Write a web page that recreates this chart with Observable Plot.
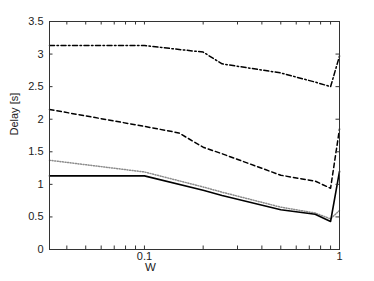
<!DOCTYPE html>
<html>
<head>
<meta charset="utf-8">
<script src="https://cdn.jsdelivr.net/npm/d3@7"></script>
<script src="https://cdn.jsdelivr.net/npm/@observablehq/plot@0.6"></script>
<style>
  html, body { margin: 0; padding: 0; background: #fff; }
  #chart svg { display: block; }
</style>
</head>
<body>
<div id="chart"></div>
<script>
// Data
const W = [0.0326, 0.1, 0.2, 0.25, 0.5, 0.75, 0.9, 1];
const solid   = [1.13, 1.13, 0.91, 0.83, 0.61, 0.54, 0.43, 1.20];
const dotted  = [1.37, 1.19, 0.96, 0.88, 0.65, 0.56, 0.47, 0.60];
const dashedW = [0.0326, 0.1, 0.15, 0.2, 0.25, 0.5, 0.75, 0.9, 1];
const dashed  = [2.15, 1.89, 1.79, 1.57, 1.47, 1.14, 1.05, 0.94, 1.85];
const dashdot = [3.13, 3.13, 3.03, 2.85, 2.71, 2.57, 2.50, 2.97];

const yTicks = [0, 0.5, 1, 1.5, 2, 2.5, 3, 3.5];
const yTickLabels = ["0", "0.5", "1", "1.5", "2", "2.5", "3", "3.5"];
const xMajor = [0.1, 1];
const xMajorLabels = ["0.1", "1"];
const xMinor = [0.04, 0.05, 0.06, 0.07, 0.08, 0.09, 0.2, 0.3, 0.4, 0.5, 0.6, 0.7, 0.8, 0.9];

const series = (xs, ys) => xs.map((x, i) => ({x, y: ys[i]}));

const axisColor = "#333";
const font = "Liberation Sans, Arial, Helvetica, sans-serif";
const W_PX = 374, H_PX = 281, ML = 49, MR = 35, MT = 21, MB = 32;
const innerW = W_PX - ML - MR, innerH = H_PX - MT - MB;
const tick = 3.5;

const chart = Plot.plot({
  width: W_PX,
  height: H_PX,
  marginLeft: ML,
  marginRight: MR,
  marginTop: MT,
  marginBottom: MB,
  style: {fontFamily: font, fontSize: "11px", color: "#222", background: "#fff"},
  x: {type: "log", domain: [0.0326, 1]},
  y: {domain: [0, 3.5]},
  marks: [
    // lines
    Plot.line(series(W, dotted), {x: "x", y: "y", stroke: "#8c8c8c", strokeWidth: 1.5, strokeDasharray: "1,1.6"}),
    Plot.line(series(W, solid), {x: "x", y: "y", stroke: "#000", strokeWidth: 1.6}),
    Plot.line(series(dashedW, dashed), {x: "x", y: "y", stroke: "#000", strokeWidth: 1.5, strokeDasharray: "4.5,3"}),
    Plot.line(series(W, dashdot), {x: "x", y: "y", stroke: "#000", strokeWidth: 1.5, strokeDasharray: "5,2.5,1.5,2.5"}),
    // inward ticks
    Plot.ruleY(yTicks, {stroke: axisColor, insetRight: innerW - tick}),
    Plot.ruleY(yTicks, {stroke: axisColor, insetLeft: innerW - tick}),
    Plot.ruleX(xMajor.concat(xMinor), {stroke: axisColor, insetTop: innerH - tick}),
    Plot.ruleX(xMajor.concat(xMinor), {stroke: axisColor, insetBottom: innerH - tick}),
    // frame
    Plot.frame({stroke: axisColor, strokeWidth: 1}),
    // tick labels
    Plot.axisY({anchor: "left", ticks: yTicks, tickSize: 0, tickPadding: 6,
      tickFormat: (d) => yTickLabels[yTicks.indexOf(d)], label: null, fontSize: 11}),
    Plot.axisX({anchor: "bottom", ticks: xMajor, tickSize: 0, tickPadding: 3,
      tickFormat: (d) => xMajorLabels[xMajor.indexOf(d)], label: null, fontSize: 11}),
    // axis titles
    Plot.text(["W"], {frameAnchor: "bottom", dx: -44, dy: 21, text: (d) => d, fontSize: 11.5, fill: "#222"}),
    Plot.text(["Delay [s]"], {frameAnchor: "left", dx: -35, rotate: -90, text: (d) => d, fontSize: 11, fill: "#222"})
  ]
});
document.getElementById("chart").append(chart);
</script>
</body>
</html>
